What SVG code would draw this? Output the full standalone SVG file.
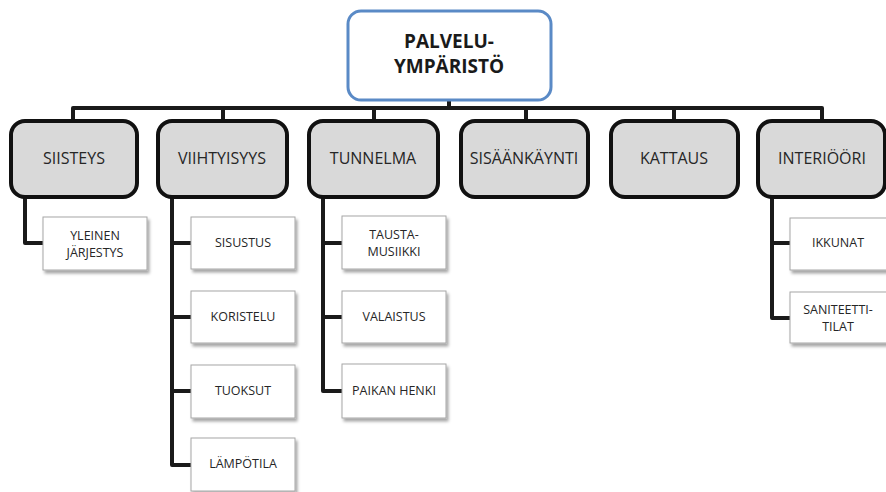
<svg xmlns="http://www.w3.org/2000/svg" width="886" height="492" viewBox="0 0 886 492">
  <style>
    .root { fill: #ffffff; stroke: #5a8ac6; stroke-width: 3; }
    .cat { fill: #d9d9d9; stroke: #111111; stroke-width: 4; }
    .leaf { fill: #ffffff; stroke: #a6a6a6; stroke-width: 1; filter: url(#shadow); }
    .link { fill: none; stroke: #1a1a1a; stroke-width: 4; stroke-linejoin: round; }
    text { font-family: "Open Sans", "Liberation Sans", sans-serif; fill: #262626; text-anchor: middle; }
    .t0 { font-size: 19px; font-weight: bold; fill: #1a1a1a; }
    .t1 { font-size: 16px; }
    .t2 { font-size: 12.5px; }
  </style>
  <defs>
    <filter id="shadow" x="-10%" y="-10%" width="130%" height="140%">
      <feDropShadow dx="2" dy="3" stdDeviation="1.5" flood-color="#000000" flood-opacity="0.35"/>
    </filter>
  </defs>

  <g id="connectors">
    <path class="link" d="M449 100 V108"/>
    <path class="link" d="M73 120 V108 H822 V120"/>
    <path class="link" d="M223 108 V120"/>
    <path class="link" d="M374 108 V120"/>
    <path class="link" d="M526 108 V120"/>
    <path class="link" d="M674 108 V120"/>
    <path class="link" d="M25 197 V243 H43"/>
    <path class="link" d="M172 197 V465 H191 M172 243 H191 M172 317 H191 M172 391 H191"/>
    <path class="link" d="M323 197 V391 H342 M323 243 H342 M323 317 H342"/>
    <path class="link" d="M772 197 V318 H790 M772 243 H790"/>
  </g>

  <g id="palveluymparisto">
    <rect class="root" x="348" y="11" width="203" height="89" rx="13"/>
    <text class="t0" x="449" y="48">PALVELU-</text>
    <text class="t0" x="449" y="73">YMPÄRISTÖ</text>
  </g>

  <g id="siisteys">
    <rect class="cat" x="11" y="121" width="126" height="76" rx="14"/>
    <text class="t1" x="74" y="164">SIISTEYS</text>
  </g>
  <g id="viihtyisyys">
    <rect class="cat" x="158" y="121" width="129" height="76" rx="14"/>
    <text class="t1" x="222" y="164">VIIHTYISYYS</text>
  </g>
  <g id="tunnelma">
    <rect class="cat" x="309" y="121" width="129" height="76" rx="14"/>
    <text class="t1" x="373" y="164">TUNNELMA</text>
  </g>
  <g id="sisaankaynti">
    <rect class="cat" x="461" y="121" width="127" height="76" rx="14"/>
    <text class="t1" x="524" y="164">SISÄÄNKÄYNTI</text>
  </g>
  <g id="kattaus">
    <rect class="cat" x="611" y="121" width="127" height="76" rx="14"/>
    <text class="t1" x="674" y="164">KATTAUS</text>
  </g>
  <g id="interioori">
    <rect class="cat" x="758" y="121" width="127" height="76" rx="14"/>
    <text class="t1" x="822" y="164">INTERIÖÖRI</text>
  </g>

  <g id="yleinen-jarjestys">
    <rect class="leaf" x="43" y="217" width="104" height="53"/>
    <text class="t2" x="95" y="240">YLEINEN</text>
    <text class="t2" x="95" y="257">JÄRJESTYS</text>
  </g>

  <g id="sisustus">
    <rect class="leaf" x="191" y="217" width="104" height="52"/>
    <text class="t2" x="243" y="247">SISUSTUS</text>
  </g>
  <g id="koristelu">
    <rect class="leaf" x="191" y="291" width="104" height="52"/>
    <text class="t2" x="243" y="321">KORISTELU</text>
  </g>
  <g id="tuoksut">
    <rect class="leaf" x="191" y="365" width="104" height="53"/>
    <text class="t2" x="243" y="395">TUOKSUT</text>
  </g>
  <g id="lampotila">
    <rect class="leaf" x="191" y="438" width="104" height="53"/>
    <text class="t2" x="243" y="468">LÄMPÖTILA</text>
  </g>

  <g id="taustamusiikki">
    <rect class="leaf" x="342" y="216" width="104" height="53"/>
    <text class="t2" x="394" y="239">TAUSTA-</text>
    <text class="t2" x="394" y="256">MUSIIKKI</text>
  </g>
  <g id="valaistus">
    <rect class="leaf" x="342" y="291" width="104" height="52"/>
    <text class="t2" x="394" y="321">VALAISTUS</text>
  </g>
  <g id="paikan-henki">
    <rect class="leaf" x="342" y="364" width="104" height="54"/>
    <text class="t2" x="394" y="395">PAIKAN HENKI</text>
  </g>

  <g id="ikkunat">
    <rect class="leaf" x="790" y="218" width="104" height="52"/>
    <text class="t2" x="838" y="247">IKKUNAT</text>
  </g>
  <g id="saniteettitilat">
    <rect class="leaf" x="790" y="292" width="104" height="51"/>
    <text class="t2" x="838" y="314">SANITEETTI-</text>
    <text class="t2" x="838" y="331">TILAT</text>
  </g>
</svg>
